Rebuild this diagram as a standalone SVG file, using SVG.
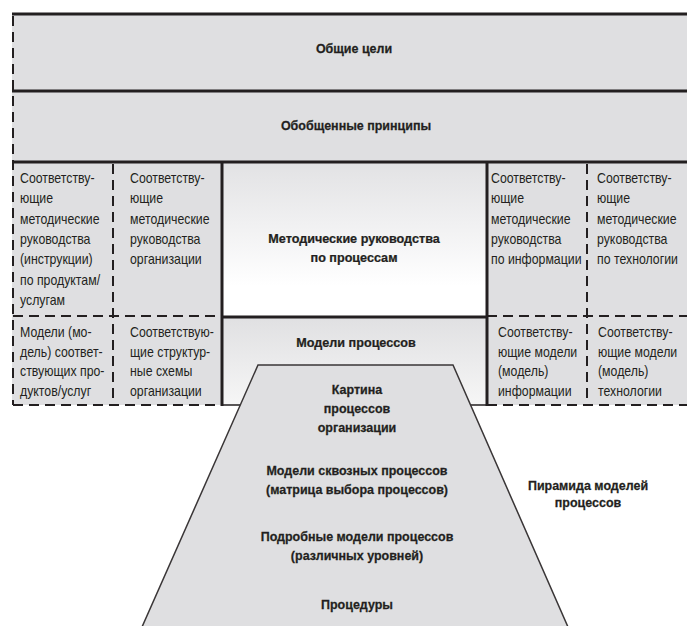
<svg xmlns="http://www.w3.org/2000/svg" width="687" height="626" viewBox="0 0 687 626">
  <defs>
    <linearGradient id="gradGuides" x1="0" y1="0" x2="0" y2="1">
      <stop offset="0" stop-color="#e2e2e4"/>
      <stop offset="0.8" stop-color="#ffffff"/>
    </linearGradient>
    <linearGradient id="gradModels" x1="0" y1="0" x2="0" y2="1">
      <stop offset="0" stop-color="#e0e0e2"/>
      <stop offset="1" stop-color="#f6f6f6"/>
    </linearGradient>
    <style>
      .panel { fill: #dfdfe1; }
      .thick { stroke: #231f20; stroke-width: 3; fill: none; }
      .thin { stroke: #231f20; stroke-width: 1.5; fill: none; }
      .dash { stroke: #231f20; stroke-width: 2; stroke-dasharray: 10 6; fill: none; }
      .head { font-family: "Liberation Sans", Arial, sans-serif; font-weight: bold; font-size: 13px; fill: #231f20; stroke: #231f20; stroke-width: 0.25; text-anchor: middle; }
      .body { font-family: "Liberation Sans", Arial, sans-serif; font-size: 14px; fill: #231f20; }
    </style>
  </defs>

  <!-- background panels -->
  <rect class="panel" x="12" y="14" width="675" height="391"/>
  <rect x="222" y="162" width="265" height="155" fill="url(#gradGuides)"/>
  <rect x="222" y="317" width="265" height="88" fill="url(#gradModels)"/>

  <!-- frame lines -->
  <g id="connectors">
    <line class="thick" x1="12" y1="14" x2="687" y2="14"/>
    <line class="thick" x1="12" y1="91" x2="687" y2="91"/>
    <line class="thick" x1="14" y1="162" x2="687" y2="162"/>
    <line class="dash" x1="13" y1="16" x2="13" y2="405"/>
    <line class="dash" x1="113" y1="164" x2="113" y2="405"/>
    <line class="dash" x1="587" y1="164" x2="587" y2="405"/>
    <line class="dash" x1="13" y1="316" x2="222" y2="316"/>
    <line class="dash" x1="487" y1="316" x2="687" y2="316"/>
    <line class="dash" x1="13" y1="405" x2="222" y2="405"/>
    <line class="dash" x1="487" y1="405" x2="687" y2="405"/>
    <line class="thin" x1="222" y1="405" x2="487" y2="405"/>
    <line class="thick" x1="222" y1="162" x2="222" y2="406"/>
    <line class="thick" x1="487" y1="162" x2="487" y2="406"/>
    <line class="thick" x1="222" y1="317" x2="487" y2="317"/>
  </g>

  <!-- text is narrowed horizontally to a condensed face -->
  <g id="goals">
    <text class="head" transform="matrix(0.96,0,0,1,354,0)" x="0" y="53">Общие цели</text>
  </g>
  <g id="principles">
    <text class="head" transform="matrix(0.96,0,0,1,356,0)" x="0" y="130">Обобщенные принципы</text>
  </g>

  <g id="guides-products">
    <text class="body" transform="matrix(0.88,0,0,1,20,0)"><tspan x="0" y="183">Соответству-</tspan><tspan x="0" y="203.5">ющие</tspan><tspan x="0" y="224">методические</tspan><tspan x="0" y="244">руководства</tspan><tspan x="0" y="264.5">(инструкции)</tspan><tspan x="0" y="285">по продуктам/</tspan><tspan x="0" y="305">услугам</tspan></text>
  </g>
  <g id="guides-organization">
    <text class="body" transform="matrix(0.88,0,0,1,130,0)"><tspan x="0" y="183">Соответству-</tspan><tspan x="0" y="203.5">ющие</tspan><tspan x="0" y="224">методические</tspan><tspan x="0" y="244">руководства</tspan><tspan x="0" y="264.5">организации</tspan></text>
  </g>
  <g id="guides-processes">
    <text class="head" transform="matrix(0.97,0,0,1,354,0)"><tspan x="0" y="243">Методические руководства</tspan><tspan x="0" y="262">по процессам</tspan></text>
  </g>
  <g id="guides-information">
    <text class="body" transform="matrix(0.88,0,0,1,491,0)"><tspan x="0" y="183">Соответству-</tspan><tspan x="0" y="203.5">ющие</tspan><tspan x="0" y="224">методические</tspan><tspan x="0" y="244">руководства</tspan><tspan x="0" y="264.5">по информации</tspan></text>
  </g>
  <g id="guides-technology">
    <text class="body" transform="matrix(0.88,0,0,1,597,0)"><tspan x="0" y="183">Соответству-</tspan><tspan x="0" y="203.5">ющие</tspan><tspan x="0" y="224">методические</tspan><tspan x="0" y="244">руководства</tspan><tspan x="0" y="264.5">по технологии</tspan></text>
  </g>

  <g id="models-products">
    <text class="body" transform="matrix(0.88,0,0,1,20,0)"><tspan x="0" y="337">Модели (мо-</tspan><tspan x="0" y="357">дель) соответ-</tspan><tspan x="0" y="376.5">ствующих про-</tspan><tspan x="0" y="396">дуктов/услуг</tspan></text>
  </g>
  <g id="models-organization">
    <text class="body" transform="matrix(0.88,0,0,1,130,0)"><tspan x="0" y="337">Соответствую-</tspan><tspan x="0" y="357">щие структур-</tspan><tspan x="0" y="376.5">ные схемы</tspan><tspan x="0" y="396">организации</tspan></text>
  </g>
  <g id="models-processes">
    <text class="head" transform="matrix(0.97,0,0,1,356,0)" x="0" y="347">Модели процессов</text>
  </g>
  <g id="models-information">
    <text class="body" transform="matrix(0.88,0,0,1,498,0)"><tspan x="0" y="337">Соответству-</tspan><tspan x="0" y="357">ющие модели</tspan><tspan x="0" y="376.5">(модель)</tspan><tspan x="0" y="396">информации</tspan></text>
  </g>
  <g id="models-technology">
    <text class="body" transform="matrix(0.88,0,0,1,598,0)"><tspan x="0" y="337">Соответству-</tspan><tspan x="0" y="357">ющие модели</tspan><tspan x="0" y="376.5">(модель)</tspan><tspan x="0" y="396">технологии</tspan></text>
  </g>

  <!-- pyramid of process models -->
  <g id="pyramid">
    <polygon points="258,365 453,365 568,627 142,627" fill="#dfdfe1" stroke="#3a3637" stroke-width="1.5"/>
    <text class="head" transform="matrix(0.96,0,0,1,357,0)"><tspan x="0" y="394">Картина</tspan><tspan x="0" y="413">процессов</tspan><tspan x="0" y="432">организации</tspan></text>
    <text class="head" transform="matrix(0.96,0,0,1,357,0)"><tspan x="0" y="475">Модели сквозных процессов</tspan><tspan x="0" y="494">(матрица выбора процессов)</tspan></text>
    <text class="head" transform="matrix(0.96,0,0,1,357,0)"><tspan x="0" y="541">Подробные модели процессов</tspan><tspan x="0" y="560">(различных уровней)</tspan></text>
    <text class="head" transform="matrix(0.96,0,0,1,357,0)" x="0" y="609">Процедуры</text>
  </g>

  <g id="pyramid-label">
    <text class="head" transform="matrix(0.96,0,0,1,588,0)"><tspan x="0" y="490">Пирамида моделей</tspan><tspan x="0" y="507">процессов</tspan></text>
  </g>
</svg>
